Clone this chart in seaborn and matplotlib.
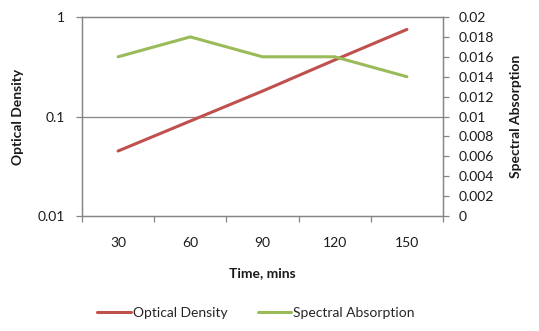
import matplotlib
matplotlib.use("Agg")
import matplotlib.pyplot as plt
import seaborn as sns
import pandas as pd
import numpy as np
from matplotlib.ticker import FixedLocator
from matplotlib.lines import Line2D

times = ["30", "60", "90", "120", "150"]
optical_density = [0.045, 0.09, 0.18, 0.37, 0.75]
spectral_absorption = [0.016, 0.018, 0.016, 0.016, 0.014]

sns.set_theme(style="white")
plt.rcParams['font.family'] = ['Lato', 'DejaVu Sans']

df = pd.DataFrame({"Time": times, "OD": optical_density, "SA": spectral_absorption})

fig = plt.figure(figsize=(5.39, 3.31), dpi=100)
ax = fig.add_axes([82/539, 1-216/331, (443-82)/539, (216-17)/331])
ax2 = ax.twinx()

red = "#C0504D"
green = "#9BBB59"
sns.lineplot(data=df, x="Time", y="OD", ax=ax, color=red, linewidth=2.2, sort=False)
sns.lineplot(data=df, x="Time", y="SA", ax=ax2, color=green, linewidth=2.2, sort=False)

ax.set_yscale("log")
ax.set_ylim(0.01, 1)
ax.set_xlim(-0.5, 4.5)
ax2.set_ylim(0, 0.02)

gray = "#868686"
txt = "#1a1a1a"
fs = 10
for a in (ax, ax2):
    for s in a.spines.values():
        s.set_color(gray)
        s.set_linewidth(0.9)

ax.set_yticks([0.01, 0.1, 1])
ax.set_yticklabels(["0.01", "0.1", "1"])
ax.yaxis.set_minor_locator(FixedLocator([]))
ax.axhline(0.1, color=gray, linewidth=0.9, zorder=0)

ax.set_xticks(range(5))
ax.set_xticklabels(times)
ax.xaxis.set_minor_locator(FixedLocator(np.arange(-0.5, 5, 1)))
ax.tick_params(axis="x", which="major", length=0, pad=15, labelsize=fs, colors=txt)
ax.tick_params(axis="x", which="minor", length=4, color=gray, width=0.9, direction="out", bottom=True)
ax.tick_params(axis="y", which="major", length=4, color=gray, width=0.9, direction="out", left=True, labelsize=fs, colors=txt, pad=8)

yt2 = [0, 0.002, 0.004, 0.006, 0.008, 0.01, 0.012, 0.014, 0.016, 0.018, 0.02]
ax2.set_yticks(yt2)
ax2.set_yticklabels(["0", "0.002", "0.004", "0.006", "0.008", "0.01", "0.012", "0.014", "0.016", "0.018", "0.02"])
ax2.tick_params(axis="y", length=4, color=gray, width=0.9, direction="out", right=True, labelsize=fs, colors=txt, pad=7)

ax.set_xlabel("Time, mins", fontsize=fs, fontweight="bold", labelpad=13, color=txt)
ax.set_ylabel("Optical Density", fontsize=fs, fontweight="bold", labelpad=10, color=txt)
ax2.set_ylabel("Spectral Absorption", fontsize=fs, fontweight="bold", labelpad=12, color=txt, rotation=90)

handles = [Line2D([], [], color=red, linewidth=2.2), Line2D([], [], color=green, linewidth=2.2)]
fig.legend(handles, ["Optical Density", "Spectral Absorption"], loc="center", bbox_to_anchor=(256/539, 1-313/331),
           ncol=2, frameon=False, fontsize=fs, handlelength=2.4, handletextpad=0.15, columnspacing=2.2)

fig.savefig("out.png", dpi=100)
